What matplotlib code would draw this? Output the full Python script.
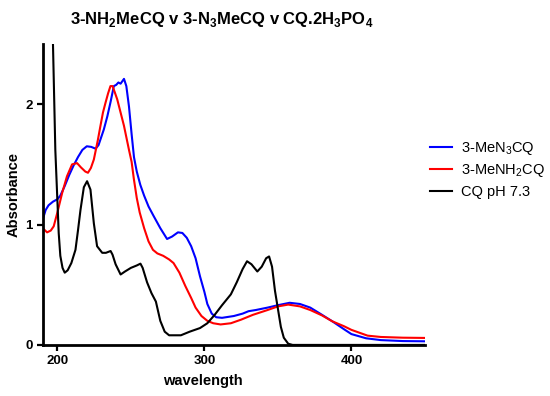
import matplotlib

matplotlib.use("Agg")
import numpy as np
import matplotlib.pyplot as plt

plt.rcParams["font.family"] = ["Liberation Sans", "DejaVu Sans"]
plt.rcParams["mathtext.fontset"] = "custom"
plt.rcParams["mathtext.rm"] = "Liberation Sans"
plt.rcParams["mathtext.bf"] = "Liberation Sans:bold"

############### DATA ########################################
# 3-MeN3CQ (blue)
wl_blue = [190, 192, 194, 197, 200, 202, 205, 208, 211, 214, 217, 220, 223, 226, 228,
           231.6, 234, 236.2, 238.4, 240, 241.5, 243, 245.3, 246.9, 248.7, 250.5, 252.1,
           254, 256.4, 259, 262, 265.5, 270, 274.6, 278, 282, 285, 288, 291, 294, 297,
           300, 302, 305, 308, 312, 320, 326, 330, 335, 343, 350, 358, 365, 372, 380,
           387, 395, 400, 410, 420, 435, 450]
abs_blue = [1.04, 1.12, 1.16, 1.19, 1.21, 1.24, 1.32, 1.41, 1.49, 1.56, 1.62, 1.65, 1.645,
            1.63, 1.66, 1.79, 1.90, 2.02, 2.15, 2.16, 2.18, 2.17, 2.21, 2.15, 1.98, 1.75,
            1.56, 1.44, 1.33, 1.24, 1.15, 1.07, 0.97, 0.88, 0.90, 0.935, 0.93, 0.89, 0.82,
            0.72, 0.57, 0.44, 0.34, 0.26, 0.23, 0.225, 0.24, 0.26, 0.28, 0.29, 0.31, 0.33,
            0.35, 0.34, 0.31, 0.25, 0.196, 0.13, 0.09, 0.055, 0.04, 0.032, 0.03]

# 3-MeNH2CQ (red)
wl_red = [190, 193, 195.5, 197.5, 200, 203.2, 206.5, 210, 213.4, 216, 219, 220.8, 222.8,
          224.8, 227.5, 229.3, 231, 232.7, 234.5, 236.1, 237.5, 239, 240.7, 243, 245.3,
          248.7, 250.5, 252, 254, 256, 259, 262, 265, 268, 272, 276, 279, 283, 287, 291,
          294, 298, 302, 306, 311, 318, 325, 333, 343, 350, 357, 365, 372, 380, 387, 395,
          400, 411, 420, 435, 450]
abs_red = [0.97, 0.935, 0.95, 0.985, 1.10, 1.26, 1.40, 1.50, 1.51, 1.475, 1.44, 1.43, 1.47,
           1.54, 1.70, 1.82, 1.93, 2.01, 2.09, 2.15, 2.15, 2.10, 2.04, 1.93, 1.82, 1.62,
           1.52, 1.38, 1.22, 1.10, 0.97, 0.86, 0.79, 0.76, 0.74, 0.71, 0.68, 0.60, 0.49,
           0.39, 0.31, 0.24, 0.20, 0.18, 0.17, 0.18, 0.21, 0.25, 0.29, 0.32, 0.335, 0.32,
           0.29, 0.245, 0.196, 0.155, 0.125, 0.077, 0.066, 0.06, 0.058]

# CQ pH 7.3 (black)
wl_cq = [195, 197, 198.6, 200.9, 202, 203.5, 205, 207, 209.5, 212.3, 214, 215.7, 218,
         220.2, 222.5, 224.8, 227, 230.5, 233, 236.2, 237.5, 239.6, 243, 246, 250, 254,
         256.5, 258, 261, 264, 267, 270, 273, 276, 284, 290, 297, 302, 307, 312, 318,
         322, 326, 329, 332, 336, 339, 342, 344, 346, 348, 350, 352, 354, 357, 360, 450]
abs_cq = [3.3, 2.5, 1.62, 0.93, 0.74, 0.64, 0.60, 0.62, 0.68, 0.79, 0.95, 1.12, 1.31,
          1.36, 1.29, 1.01, 0.82, 0.765, 0.765, 0.78, 0.75, 0.67, 0.585, 0.61, 0.64,
          0.66, 0.675, 0.64, 0.52, 0.43, 0.36, 0.20, 0.11, 0.08, 0.08, 0.11, 0.14, 0.18,
          0.25, 0.33, 0.42, 0.52, 0.63, 0.695, 0.67, 0.61, 0.65, 0.72, 0.735, 0.65, 0.45,
          0.30, 0.15, 0.06, 0.01, 0.0, 0.0]

x_ticks = [200, 300, 400]
y_ticks = [0, 1, 2]

################ PLOT ################
fig = plt.figure(figsize=(5.5, 3.96), dpi=100)
ax = fig.add_axes([0.0776, 0.129, 0.695, 0.76])

ax.plot(wl_blue, abs_blue, color="#0000ff", lw=1.5, label=r"3-MeN$_3$CQ")
ax.plot(wl_red, abs_red, color="#ff0000", lw=1.5, label=r"3-MeNH$_2$CQ")
ax.plot(wl_cq, abs_cq, color="black", lw=1.5, label="CQ pH 7.3")

ax.set_xlim(190, 450)
ax.set_ylim(0, 2.5)
ax.set_xticks(x_ticks)
ax.set_yticks(y_ticks)

for s in ["top", "right"]:
    ax.spines[s].set_visible(False)
for s in ["left", "bottom"]:
    ax.spines[s].set_linewidth(2)
ax.tick_params(width=1.6, length=4, labelsize=9.5, pad=3)
for lab in ax.get_xticklabels() + ax.get_yticklabels():
    lab.set_fontweight("bold")

ax.set_xlabel("wavelength", fontweight="bold", fontsize=10.5)
ax.set_ylabel("Absorbance", fontweight="bold", fontsize=10.5)
ax.xaxis.set_label_coords(0.42, -0.095)
ax.yaxis.set_label_coords(-0.057, 0.5)

fig.text(0.403, 0.952,
         r"3-NH$_\mathbf{2}$MeCQ v 3-N$_\mathbf{3}$MeCQ v CQ.2H$_\mathbf{3}$PO$_\mathbf{4}$",
         ha="center", va="center", fontsize=12, fontweight="bold")

fig.legend(loc="upper left", bbox_to_anchor=(0.782, 0.647), frameon=False,
           borderaxespad=0, borderpad=0,
           fontsize=10.5, handlelength=1.5, handletextpad=0.65, labelspacing=0.38)

plt.savefig("out.png", dpi=100)
